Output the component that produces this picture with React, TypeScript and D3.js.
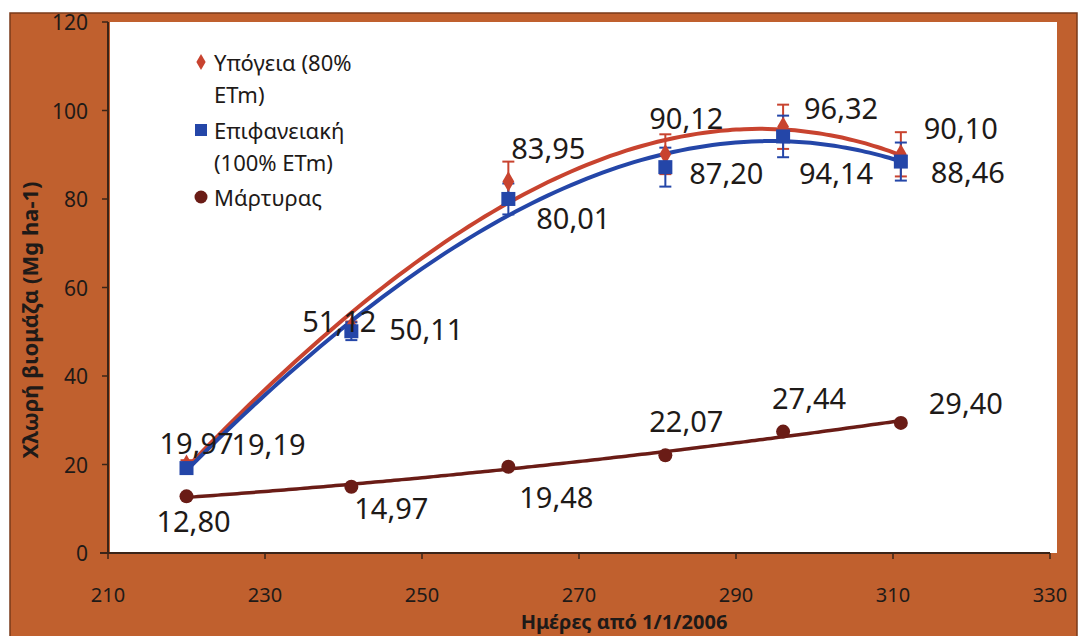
import React from 'react';
import * as d3 from 'd3';

// ---------- data ----------
const days = [220, 241, 261, 281, 296, 311];
const ypogeia = [19.97, 51.12, 83.95, 90.12, 96.32, 90.10];
const epifaneiaki = [19.19, 50.11, 80.01, 87.20, 94.14, 88.46];
const martyras = [12.80, 14.97, 19.48, 22.07, 27.44, 29.40];
const ypogeiaErr = [1.0, 1.2, 4.5, 4.5, 5.0, 5.0];
const epifaneiakiErr = [1.0, 2.0, 3.5, 4.4, 4.7, 4.3];
const xTicks = [210, 230, 250, 270, 290, 310, 330];
const yTicks = [0, 20, 40, 60, 80, 100, 120];
const seriesNames = ['Υπόγεια (80%', 'ETm)', 'Επιφανειακή', '(100% ETm)', 'Μάρτυρας'];
const xTitle = 'Ημέρες από 1/1/2006';
const yTitle = 'Χλωρή βιομάζα (Mg ha-1)';

// ---------- label offsets (layout) ----------
const redLabelOff = [[10, -22], [-12, -6], [40, -34], [21, -37], [58, -19], [60, -27]];
const blueLabelOff = [[82, -25], [75, -3], [65, 19], [61, 5], [53, 36], [67, 10]];
const brownLabelOff = [[7, 24], [40, 21], [48, 30], [21, -35], [26, -34], [65, -20]];

const fmt = (v: number) => v.toFixed(2).replace('.', ',');

// least squares polynomial fit (trendline)
function polyFit(xs: number[], ys: number[], order: number) {
  const c = 265, s = 50;
  const n = order + 1;
  const A: number[][] = Array.from({ length: n }, () => new Array(n + 1).fill(0));
  xs.forEach((x, k) => {
    const t = (x - c) / s;
    for (let i = 0; i < n; i++) {
      for (let j = 0; j < n; j++) A[i][j] += Math.pow(t, i + j);
      A[i][n] += ys[k] * Math.pow(t, i);
    }
  });
  for (let i = 0; i < n; i++) {
    let p = i;
    for (let r = i + 1; r < n; r++) if (Math.abs(A[r][i]) > Math.abs(A[p][i])) p = r;
    [A[i], A[p]] = [A[p], A[i]];
    for (let r = 0; r < n; r++) {
      if (r === i) continue;
      const f = A[r][i] / A[i][i];
      for (let col = i; col <= n; col++) A[r][col] -= f * A[i][col];
    }
  }
  const coef = A.map((row, i) => row[n] / row[i]);
  return (x: number) => {
    const t = (x - c) / s;
    return coef.reduce((acc, a, i) => acc + a * Math.pow(t, i), 0);
  };
}

const W = 1079, H = 636;
const FONT = "'Noto Sans', 'Open Sans', sans-serif";
const RED = '#c8432f';
const BLUE = '#2446a8';
const BROWN = '#6a1c16';
const ORANGE = '#c0602e';
const TXT = '#1e1a18';

export default function App() {
  const x = d3.scaleLinear().domain([210, 330]).range([108, 1050]);
  const y = d3.scaleLinear().domain([0, 120]).range([553, 22]);

  const fRed = polyFit(days, ypogeia, 3);
  const fBlue = polyFit(days, epifaneiaki, 3);
  const fBrown = polyFit(days, martyras, 2);
  const samples = d3.range(days[0], days[days.length - 1] + 0.5, 1);
  const mk = (f: (v: number) => number) =>
    d3.line<number>().x(d => x(d)).y(d => y(f(d))).curve(d3.curveCatmullRom)(samples) as string;

  const errBar = (vals: number[], errs: number[], color: string, key: string) =>
    vals.map((v, i) => {
      const cx = x(days[i]);
      const y1 = y(v + errs[i]);
      const y2 = y(v - errs[i]);
      return (
        <g key={key + i} stroke={color} strokeWidth={2}>
          <line x1={cx} x2={cx} y1={y1} y2={y2} />
          <line x1={cx - 6} x2={cx + 6} y1={y1} y2={y1} />
          <line x1={cx - 6} x2={cx + 6} y1={y2} y2={y2} />
        </g>
      );
    });

  const labels = (vals: number[], offs: number[][], key: string) =>
    vals.map((v, i) => (
      <text key={key + i} x={x(days[i]) + offs[i][0]} y={y(v) + offs[i][1]}
        textAnchor="middle" dominantBaseline="central" fontSize={29} fill={TXT} fontFamily={FONT}>
        {fmt(v)}
      </text>
    ));

  return (
    <svg width={W} height={H} style={{ position: 'absolute', left: 0, top: 0, background: '#fff' }}>
      {/* frame */}
      <rect x={10} y={13} width={1067} height={630} fill={ORANGE} stroke="#7a3a1a" strokeWidth={1.5} />
      <rect x={x(210) + 2} y={y(120)} width={1057 - x(210) - 2} height={y(0) - y(120)} fill="#fff" />

      {/* axes */}
      <line x1={x(210)} x2={x(210)} y1={y(120)} y2={y(0)} stroke="#3a2418" strokeWidth={2} />
      <line x1={x(210) - 8} x2={x(330)} y1={y(0)} y2={y(0)} stroke="#3a2418" strokeWidth={2} />
      {yTicks.map(t => (
        <g key={'yt' + t}>
          <line x1={x(210) - 6} x2={x(210)} y1={y(t)} y2={y(t)} stroke="#3a2418" strokeWidth={1.5} />
          <text x={x(210) - 20} y={y(t)} textAnchor="end" dominantBaseline="central"
            fontSize={21} fill={TXT} fontFamily={FONT}>{t}</text>
        </g>
      ))}
      {xTicks.map(t => (
        <g key={'xt' + t}>
          <line x1={x(t)} x2={x(t)} y1={y(0)} y2={y(0) + 6} stroke="#3a2418" strokeWidth={1.5} />
          <text x={x(t)} y={y(0) + 41} textAnchor="middle" dominantBaseline="central"
            fontSize={20} fill={TXT} fontFamily={FONT}>{t}</text>
        </g>
      ))}
      <text x={(x(210) + x(330)) / 2 + 45} y={629} textAnchor="middle" fontSize={20} fontWeight="bold"
        fill={TXT} fontFamily={FONT}>{xTitle}</text>
      <text transform="translate(38,320) rotate(-90)" textAnchor="middle" fontSize={22} fontWeight="bold"
        fill={TXT} fontFamily={FONT}>{yTitle}</text>

      {/* error bars */}
      {errBar(ypogeia, ypogeiaErr, RED, 'er')}
      {errBar(epifaneiaki, epifaneiakiErr, BLUE, 'eb')}

      {/* trend curves */}
      <path d={mk(fRed)} fill="none" stroke={RED} strokeWidth={4} />
      <path d={mk(fBlue)} fill="none" stroke={BLUE} strokeWidth={4} />
      <path d={mk(fBrown)} fill="none" stroke={BROWN} strokeWidth={3.5} />

      {/* markers */}
      {ypogeia.map((v, i) => (
        <path key={'mr' + i} d={d3.symbol(d3.symbolDiamond, 120)() as string}
          transform={`translate(${x(days[i])},${y(v)})`} fill={RED} />
      ))}
      {epifaneiaki.map((v, i) => (
        <rect key={'mb' + i} x={x(days[i]) - 7} y={y(v) - 7} width={14} height={14} fill={BLUE} />
      ))}
      {martyras.map((v, i) => (
        <circle key={'mc' + i} cx={x(days[i])} cy={y(v)} r={7} fill={BROWN} />
      ))}

      {/* labels */}
      {labels(ypogeia, redLabelOff, 'lr')}
      {labels(epifaneiaki, blueLabelOff, 'lb')}
      {labels(martyras, brownLabelOff, 'lc')}

      {/* legend */}
      <path d={d3.symbol(d3.symbolDiamond, 75)() as string} transform="translate(201,62)" fill={RED} />
      <rect x={195} y={124} width={12} height={12} fill={BLUE} />
      <circle cx={201} cy={197} r={6.5} fill={BROWN} />
      {[62, 94, 130, 162, 197].map((ly, i) => (
        <text key={'lg' + i} x={214} y={ly} dominantBaseline="central" fontSize={22}
          fill={TXT} fontFamily={FONT}>{seriesNames[i]}</text>
      ))}
    </svg>
  );
}
